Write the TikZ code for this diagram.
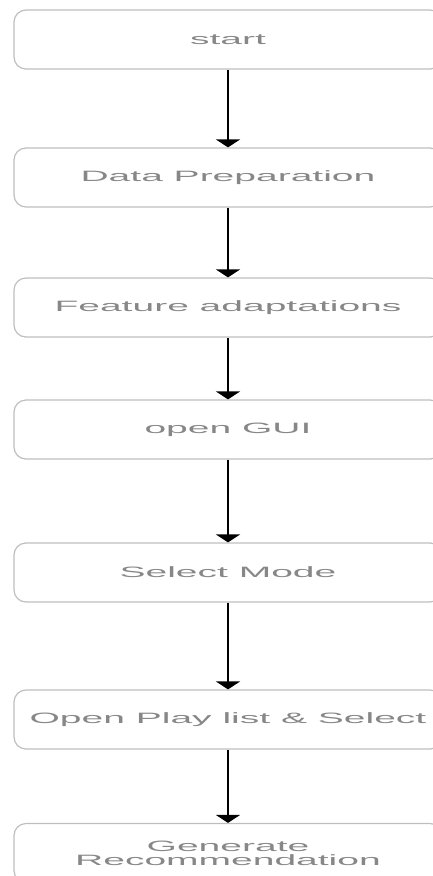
\documentclass[tikz,border=0pt]{standalone}
\usepackage{fontspec}
\setmainfont{Liberation Sans}
\usepackage{graphicx}
\usetikzlibrary{arrows.meta}
\definecolor{boxgray}{RGB}{190,190,190}
\definecolor{txtgray}{RGB}{135,135,135}
\newcommand{\widetxt}[1]{\scalebox{2.6}[1]{#1}}
\tikzset{
  flowbox/.style={draw=boxgray, line width=1.2pt, rounded corners=12pt,
    minimum width=428pt, minimum height=59pt, inner sep=0pt,
    text=txtgray, align=center, font=\fontsize{15}{14}\selectfont},
  flowarrow/.style={line width=2pt, -{Triangle[width=24pt,length=8pt]}}
}
\begin{document}
\begin{tikzpicture}[x=1pt,y=-1pt]
  \useasboundingbox (0,0) rectangle (433,876);
  \clip (0,0) rectangle (433,876);
  % steps
  \node[flowbox] (start) at (228,39.5) {\widetxt{start}};
  \node[flowbox] (prep) at (228,177.5) {\widetxt{Data Preparation}};
  \node[flowbox] (feat) at (228,307.5) {\widetxt{Feature adaptations}};
  \node[flowbox] (gui) at (228,429.5) {\widetxt{open GUI}};
  \node[flowbox] (mode) at (228,572.5) {\widetxt{Select Mode}};
  \node[flowbox] (play) at (228,719.5) {\widetxt{Open Play list \& Select}};
  \node[flowbox] (reco) at (228,853) {\widetxt{Generate}\\\widetxt{Recommendation}};
  % arrows
  \draw[flowarrow] (start) -- (prep);
  \draw[flowarrow] (prep) -- (feat);
  \draw[flowarrow] (feat) -- (gui);
  \draw[flowarrow] (gui) -- (mode);
  \draw[flowarrow] (mode) -- (play);
  \draw[flowarrow] (play) -- (reco);
\end{tikzpicture}
\end{document}
